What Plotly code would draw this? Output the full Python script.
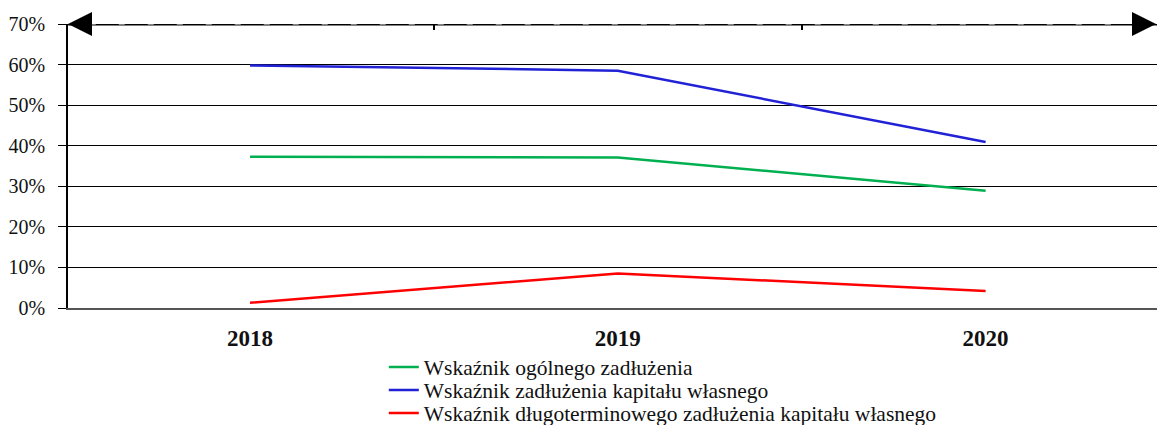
import plotly.graph_objects as go

years = ["2018", "2019", "2020"]
ogolne = [37.3, 37.1, 28.9]
kapital = [59.8, 58.5, 40.9]
dlugoterm = [1.3, 8.5, 4.2]
series_names = [
    "Wskaźnik ogólnego zadłużenia",
    "Wskaźnik zadłużenia kapitału własnego",
    "Wskaźnik długoterminowego zadłużenia kapitału własnego",
]
colors = ["#00B050", "#2121D6", "#FF0000"]
y_ticks = [0, 10, 20, 30, 40, 50, 60, 70]
y_labels = [f"{v}%" for v in y_ticks]

FONT = "Liberation Serif, Times New Roman, serif"

legend_ids = ["legend", "legend2", "legend3"]
legend_y = [-0.208, -0.289, -0.370]

fig = go.Figure()
for name, vals, col, lid in zip(series_names, [ogolne, kapital, dlugoterm], colors, legend_ids):
    fig.add_trace(go.Scatter(x=years, y=vals, name=name, mode="lines",
                             line=dict(color=col, width=2.5), legend=lid))

# invisible trace to host the top axis with the between-category ticks
fig.add_trace(go.Scatter(x=years, y=[None] * 3, xaxis="x2", showlegend=False,
                         hoverinfo="skip", mode="lines"))

legend_common = dict(
    x=0.29, xanchor="left", yanchor="middle",
    font=dict(family=FONT, size=21.5, color="#111"),
    bgcolor="rgba(0,0,0,0)", borderwidth=0,
)
legends = {lid: dict(y=ly, **legend_common) for lid, ly in zip(legend_ids, legend_y)}

x_range = [-0.495, 2.466]

fig.update_layout(
    width=1157, height=425,
    margin=dict(l=68, r=0, t=24, b=117, autoexpand=False),
    paper_bgcolor="white", plot_bgcolor="white",
    font=dict(family=FONT, color="#111"),
    xaxis=dict(
        type="category", range=x_range,
        showline=True, linecolor="#555", linewidth=2,
        showgrid=False, ticks="", zeroline=False,
        tickfont=dict(family=FONT, size=23, color="#111", weight="bold"),
        ticklabelstandoff=8,
    ),
    xaxis2=dict(
        type="linear", range=x_range, overlaying="x", side="top",
        showline=False, showgrid=False, zeroline=False,
        tickvals=[0.5, 1.5], ticks="inside", ticklen=6, tickwidth=2,
        tickcolor="black", showticklabels=False,
    ),
    yaxis=dict(
        range=[0, 70], tickmode="array", tickvals=y_ticks, ticktext=y_labels,
        showgrid=True, gridcolor="black", gridwidth=1,
        showline=True, linecolor="black", linewidth=1.5,
        ticks="outside", ticklen=8, tickcolor="black", tickwidth=1,
        zeroline=False, ticklabelstandoff=9,
        tickfont=dict(family=FONT, size=20, color="#111"),
    ),
    showlegend=True,
    **legends,
)

# top dashed line with arrows
fig.add_shape(type="line", xref="paper", yref="y", x0=0, x1=1, y0=70, y1=70,
              line=dict(color="black", width=3))
fig.add_shape(type="line", xref="paper", yref="y", x0=0.02, x1=0.985, y0=70, y1=70,
              line=dict(color="white", width=1, dash="6px,23px"))
fig.add_annotation(x=0, y=70, xref="paper", yref="y", ax=24, ay=0, text="",
                   showarrow=True, arrowhead=2, arrowsize=1.6, arrowwidth=3,
                   arrowcolor="black")
fig.add_annotation(x=1, y=70, xref="paper", yref="y", ax=-24, ay=0, text="",
                   showarrow=True, arrowhead=2, arrowsize=1.6, arrowwidth=3,
                   arrowcolor="black")

fig.write_html(
    "out.html",
    config={"displayModeBar": False},
    post_script="document.body.style.margin='0';document.body.style.overflow='hidden';",
)
